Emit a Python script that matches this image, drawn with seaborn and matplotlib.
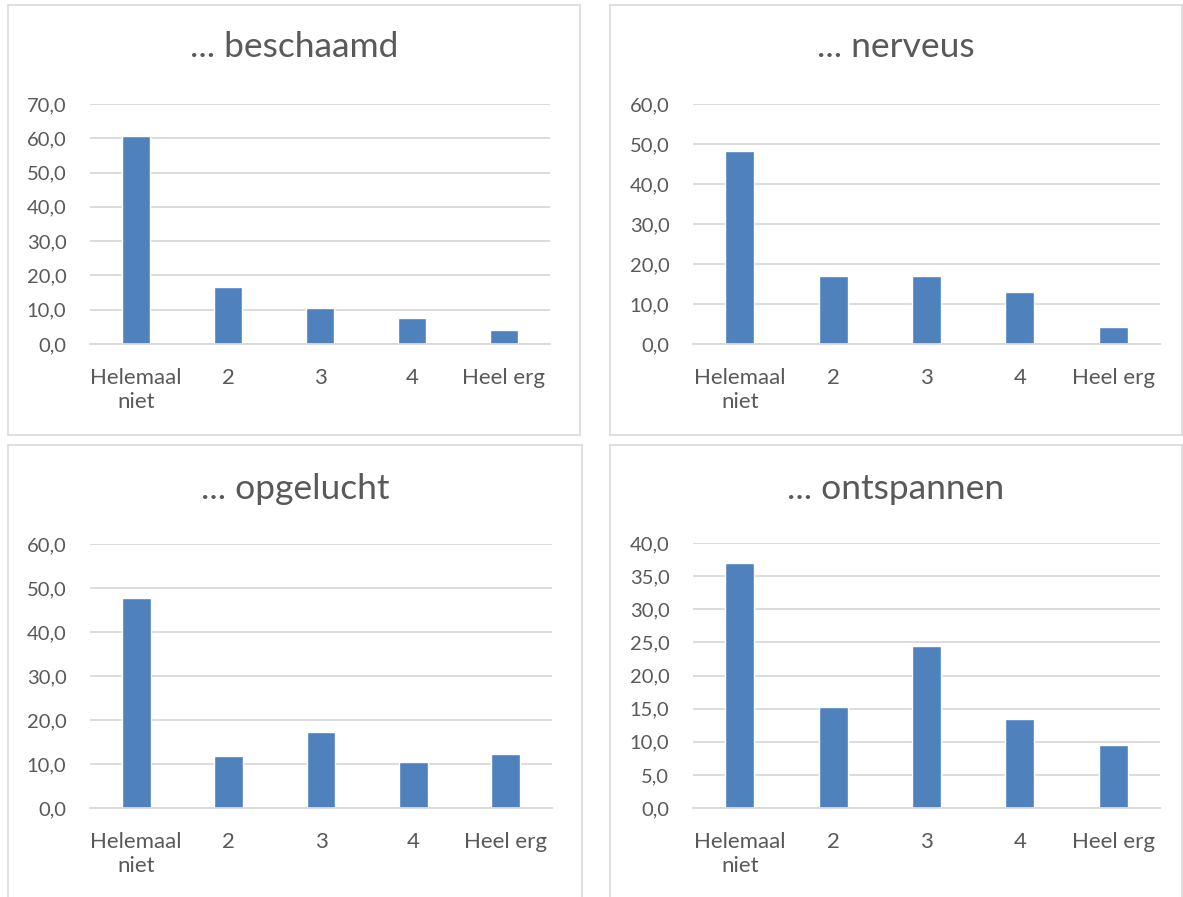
import matplotlib
matplotlib.use("Agg")
import matplotlib.pyplot as plt
from matplotlib.patches import Rectangle
from matplotlib.ticker import FuncFormatter, MultipleLocator
import seaborn as sns
import pandas as pd

# Answer categories (x axis)
categories = ["Helemaal\nniet", "2", "3", "4", "Heel erg"]

# Percentages per feeling
beschaamd = [60.8, 16.5, 10.5, 7.7, 4.1]
nerveus = [48.2, 17.0, 17.0, 13.1, 4.3]
opgelucht = [47.7, 11.8, 17.2, 10.5, 12.3]
ontspannen = [37.0, 15.3, 24.5, 13.5, 9.5]

titles = ["... beschaamd", "... nerveus", "... opgelucht", "... ontspannen"]
series = [beschaamd, nerveus, opgelucht, ontspannen]
y_max = [70, 60, 60, 40]
y_step = [10, 10, 10, 5]

sns.set_theme(style="white")
plt.rcParams["font.family"] = ["Lato", "DejaVu Sans"]

W, H = 1183, 897
fig = plt.figure(figsize=(W / 100, H / 100), dpi=100)
fig.patch.set_facecolor("white")

BAR = "#4F81BD"
TXT = "#595959"
GRID = "#D9D9D9"

def frac_box(left, top, right, bottom):
    return [left / W, 1 - bottom / H, (right - left) / W, (bottom - top) / H]

# chart frames (left, top, right, bottom) in pixels
frames = [(8, 5, 580, 435), (610, 5, 1182, 435), (8, 445, 582, 905), (610, 445, 1182, 905)]
# plot areas
areas = [(90, 104, 550, 344), (693, 104, 1160, 344), (90, 544, 552, 808), (693, 543, 1160, 808)]
title_y = [47, 47, 489, 489]

comma = FuncFormatter(lambda v, p: f"{v:.1f}".replace(".", ","))

for i in range(4):
    l, t, r, b = frames[i]
    fig.add_artist(Rectangle((l / W, 1 - b / H), (r - l) / W, (b - t) / H,
                             transform=fig.transFigure, fill=False,
                             edgecolor=GRID, linewidth=1.2))
    ax = fig.add_axes(frac_box(*areas[i]))
    df = pd.DataFrame({"cat": categories, "val": series[i]})
    sns.barplot(data=df, x="cat", y="val", color=BAR, saturation=1,
                width=0.31, ax=ax)
    ax.set_xlim(-0.5, 4.5)
    ax.set_ylim(0, y_max[i])
    ax.yaxis.set_major_locator(MultipleLocator(y_step[i]))
    ax.yaxis.set_major_formatter(comma)
    ax.grid(axis="y", color=GRID, linewidth=1.3)
    ax.set_axisbelow(True)
    for s in ["top", "right", "left"]:
        ax.spines[s].set_visible(False)
    ax.spines["bottom"].set_color(GRID)
    ax.spines["bottom"].set_linewidth(1.3)
    ax.tick_params(axis="both", length=0, colors=TXT)
    ax.tick_params(axis="y", pad=17, labelsize=14.5)
    ax.tick_params(axis="x", pad=17, labelsize=16)
    ax.set_xlabel("")
    ax.set_ylabel("")
    for lab in ax.get_xticklabels():
        lab.set_linespacing(1.3)
    cx = (l + r) / 2
    fig.text(cx / W, 1 - title_y[i] / H, titles[i], ha="center", va="center",
             fontsize=25.5, color=TXT)

fig.savefig("out.png", dpi=100, facecolor="white")
